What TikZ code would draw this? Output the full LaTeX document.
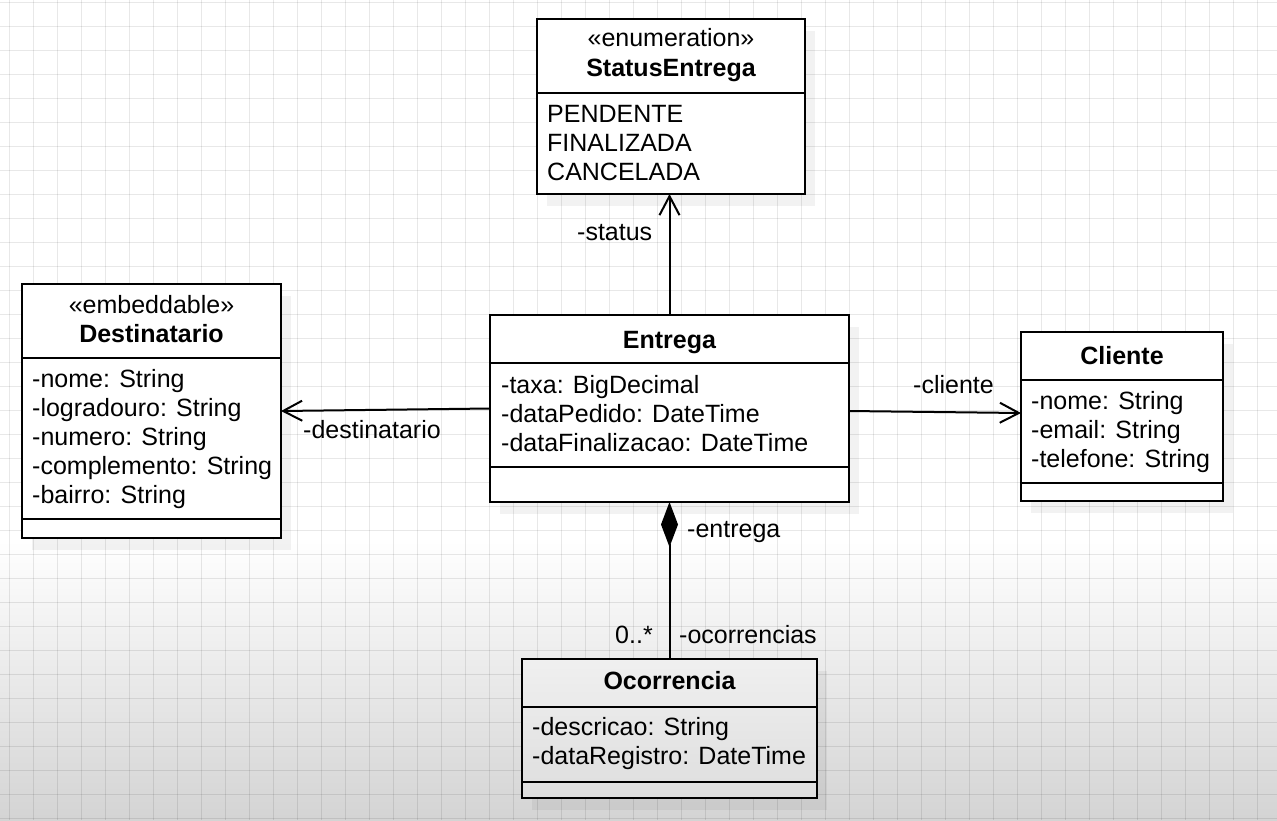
\documentclass[tikz,border=0pt]{standalone}
\usepackage{fontspec}
\setmainfont{Liberation Sans}
\usetikzlibrary{arrows.meta}
\begin{document}
\begin{tikzpicture}[x=1pt,y=-1pt,
  umlbox/.style={draw=black, line width=2.2pt, fill=white, outer sep=0pt, inner sep=0pt},
  divider/.style={line width=2pt},
  txt/.style={anchor=base west, inner sep=0pt, font=\fontsize{25}{29}\selectfont},
  clstitle/.style={anchor=base, inner sep=0pt, font=\fontsize{25}{29}\selectfont\bfseries},
  stereo/.style={anchor=base, inner sep=0pt, font=\fontsize{25}{29}\selectfont},
  assoc/.style={line width=2pt, -{Straight Barb[length=19pt,width=20pt,line width=2pt]}},
  comp/.style={line width=2pt, {Diamond[length=45pt,width=17pt]}-},
  shadowbox/.style={fill=black, opacity=0.05},
  gridln/.style={draw=black, opacity=0.09, line width=0.8pt}]
\useasboundingbox (0,0) rectangle (1277,820);
% background
\fill[white] (0,0) rectangle (1277,820);
\shade[top color=white, bottom color=black!17] (0,540) rectangle (1277,820);
\foreach \i in {0,...,53} \draw[gridln] ({9.3+24*\i},0) -- ({9.3+24*\i},820);
\foreach \j in {0,...,34} \draw[gridln] (0,{2.7+24*\j}) -- (1277,{2.7+24*\j});
% shadows
\fill[shadowbox] (547,31) rectangle (815,206);
\fill[shadowbox] (32,296) rectangle (291,550);
\fill[shadowbox] (500,327) rectangle (859,514);
\fill[shadowbox] (1031,344) rectangle (1233,513);
\fill[shadowbox] (532,671) rectangle (827,810);
% StatusEntrega
\node[umlbox, minimum width=268pt, minimum height=175pt] (status) at (671,106.5) {};
\node[stereo] (statusS) at (671,46) {«enumeration»};
\node[clstitle] (statusT) at (671,76) {StatusEntrega};
\draw[divider] (status.west |- 0,93) -- (status.east |- 0,93);
\node[txt] (st1) at (547,122) {PENDENTE};
\node[txt] (st2) at (547,151) {FINALIZADA};
\node[txt] (st3) at (547,180) {CANCELADA};
% Destinatario
\node[umlbox, minimum width=259pt, minimum height=254pt] (dest) at (151.5,411) {};
\node[stereo] (destS) at (151.5,313) {«embeddable»};
\node[clstitle] (destT) at (151.5,342) {Destinatario};
\draw[divider] (dest.west |- 0,358) -- (dest.east |- 0,358);
\draw[divider] (dest.west |- 0,519) -- (dest.east |- 0,519);
\node[txt] (d1) at (32,387) {-nome: String};
\node[txt] (d2) at (32,416) {-logradouro: String};
\node[txt] (d3) at (32,445) {-numero: String};
\node[txt] (d4) at (32,474) {-complemento: String};
\node[txt] (d5) at (32,503) {-bairro: String};
% Entrega
\node[umlbox, minimum width=359pt, minimum height=187pt] (entrega) at (669.5,408.5) {};
\node[clstitle] (entregaT) at (669.5,348) {Entrega};
\draw[divider] (entrega.west |- 0,363) -- (entrega.east |- 0,363);
\draw[divider] (entrega.west |- 0,467) -- (entrega.east |- 0,467);
\node[txt] (e1) at (501,393) {-taxa: BigDecimal};
\node[txt] (e2) at (501,422) {-dataPedido: DateTime};
\node[txt] (e3) at (501,451) {-dataFinalizacao: DateTime};
% Cliente
\node[umlbox, minimum width=202pt, minimum height=169pt] (cliente) at (1122,416.5) {};
\node[clstitle] (clienteT) at (1122,364) {Cliente};
\draw[divider] (cliente.west |- 0,380) -- (cliente.east |- 0,380);
\draw[divider] (cliente.west |- 0,483) -- (cliente.east |- 0,483);
\node[txt] (c1) at (1031,409) {-nome: String};
\node[txt] (c2) at (1031,438) {-email: String};
\node[txt] (c3) at (1031,467) {-telefone: String};
% Ocorrencia
\node[umlbox, top color=black!6, bottom color=black!13, minimum width=295pt, minimum height=139pt] (ocor) at (669.5,728.5) {};
\node[clstitle] (ocorT) at (669.5,689) {Ocorrencia};
\draw[divider] (ocor.west |- 0,707) -- (ocor.east |- 0,707);
\draw[divider] (ocor.west |- 0,782) -- (ocor.east |- 0,782);
\node[txt] (o1) at (532,735) {-descricao: String};
\node[txt] (o2) at (532,764) {-dataRegistro: DateTime};
% connectors
\draw[assoc] (entrega.north) -- (entrega.north |- status.south);
\draw[assoc] (entrega.west) -- (dest.east);
\draw[assoc] ([yshift=-2.5pt]entrega.east) -- ([yshift=3.5pt]cliente.west);
\draw[comp] (entrega.south) -- (ocor.north);
% labels
\node[txt] (lstatus) at (577,240) {-status};
\node[txt] (ldest) at (303,438) {-destinatario};
\node[txt] (lcli) at (913,393) {-cliente};
\node[txt] (lentrega) at (687,537) {-entrega};
\node[txt] (lmult) at (615,643) {0..*};
\node[txt] (locor) at (679,643) {-ocorrencias};
\end{tikzpicture}
\end{document}
